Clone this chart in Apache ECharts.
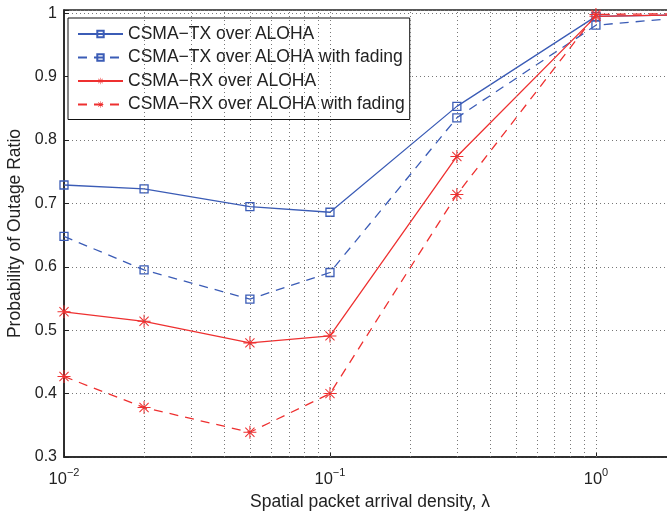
<!DOCTYPE html>
<html><head><meta charset="utf-8">
<script src="https://cdn.jsdelivr.net/npm/echarts@6/dist/echarts.min.js"></script>
<style>html,body{margin:0;padding:0;background:#fff}#c{width:667px;height:512px}</style>
</head><body><div id="c"></div>
<script>
const xValues = [0.01, 0.02, 0.05, 0.1, 0.3, 1, 2];
const txAloha = [0.729, 0.723, 0.695, 0.686, 0.853, 0.995, 0.997];
const txAlohaFading = [0.648, 0.595, 0.549, 0.591, 0.835, 0.981, 0.992];
const rxAloha = [0.529, 0.514, 0.480, 0.491, 0.774, 0.995, 0.997];
const rxAlohaFading = [0.427, 0.378, 0.339, 0.400, 0.714, 0.998, 0.999];
const seriesNames = ['CSMA\u2212TX over ALOHA', 'CSMA\u2212TX over ALOHA with fading', 'CSMA\u2212RX over ALOHA', 'CSMA\u2212RX over ALOHA with fading'];
const xGridLines = [0.02,0.03,0.04,0.05,0.06,0.07,0.08,0.09,0.1,0.2,0.3,0.4,0.5,0.6,0.7,0.8,0.9,1];
const xLabel = 'Spatial packet arrival density, \u03bb';
const yLabel = 'Probability of Outage Ratio';

const BLUE = '#3b5cb6', RED = '#ee3030';
const FONT = '"Liberation Sans", Arial, sans-serif';
const star = 'path://M0 9.2L20 9.2L20 10.8L0 10.8Z M9.2 0L10.8 0L10.8 20L9.2 20Z M2.4 3.5L3.5 2.4L17.6 16.5L16.5 17.6Z M16.5 2.4L17.6 3.5L3.5 17.6L2.4 16.5Z';
const pair = arr => xValues.map((x, i) => [x, arr[i]]);

function mk(name, data, color, dashed, isStar) {
  return {
    name, type: 'line', data: pair(data),
    symbol: isStar ? star : 'rect',
    symbolSize: isStar ? 13 : 8,
    lineStyle: { color, width: 1.3, type: dashed ? [9, 7] : 'solid' },
    itemStyle: isStar ? { color, borderWidth: 0 } : { color: 'rgba(255,255,255,0)', borderColor: color, borderWidth: 1.3 },
    emphasis: { disabled: true }, animation: false, z: 3
  };
}
const series = [
  mk(seriesNames[0], txAloha, BLUE, false, false),
  mk(seriesNames[1], txAlohaFading, BLUE, true, false),
  mk(seriesNames[2], rxAloha, RED, false, true),
  mk(seriesNames[3], rxAlohaFading, RED, true, true)
];
series[0].markLine = {
  silent: true, symbol: 'none', label: { show: false }, animation: false,
  lineStyle: { color: '#777', width: 1, type: [1, 3] },
  data: xGridLines.map(v => ({ xAxis: v }))
};

const chart = echarts.init(document.getElementById('c'), null, { renderer: 'canvas' });
chart.setOption({
  backgroundColor: '#fff',
  animation: false,
  textStyle: { fontFamily: FONT },
  grid: { left: 64, top: 10, bottom: 55, right: -9, outerBoundsMode: 'none', containLabel: false,
          show: true, borderColor: '#222', borderWidth: 1.5, backgroundColor: 'transparent' },
  legend: {
    orient: 'vertical', left: 68, top: 18,
    itemWidth: 45, itemHeight: 8, itemGap: 3.5,
    padding: [6, 5, 5, 9],
    backgroundColor: '#fff', borderColor: '#111', borderWidth: 1,
    textStyle: { fontSize: 17.5, color: '#222', fontFamily: FONT, lineHeight: 20 },
    data: seriesNames
  },
  xAxis: {
    type: 'log', logBase: 10, min: 0.01, max: 2,
    name: xLabel, nameLocation: 'middle', nameGap: 33,
    nameTextStyle: { fontSize: 17.5, color: '#222', fontFamily: FONT },
    axisLine: { show: true, lineStyle: { color: '#222', width: 1.5 } },
    axisTick: { show: true, inside: true, length: 5, lineStyle: { color: '#222' } },
    splitLine: { show: false },
    axisLabel: {
      showMaxLabel: false, margin: 8,
      formatter: v => {
        const e = Math.log10(v);
        if (Math.abs(e - Math.round(e)) > 1e-6) return '';
        const r = Math.round(e);
        return '{b|10}{s|' + (r < 0 ? '\u2212' + (-r) : r) + '}';
      },
      rich: {
        b: { fontSize: 16.5, color: '#222', fontFamily: FONT, padding: [6, 0, 0, 0] },
        s: { fontSize: 11, color: '#222', fontFamily: FONT, padding: [0, 0, 8, 0] }
      }
    }
  },
  yAxis: {
    type: 'value', min: 0.3, max: 1.005, interval: 0.1,
    name: yLabel, nameLocation: 'middle', nameGap: 34,
    nameTextStyle: { fontSize: 17.5, color: '#222', fontFamily: FONT },
    axisLine: { show: true, lineStyle: { color: '#222', width: 1.5 } },
    axisTick: { show: true, inside: true, length: 5, lineStyle: { color: '#222' } },
    splitLine: { show: true, lineStyle: { color: '#777', width: 1, type: [1, 3] } },
    axisLabel: {
      fontSize: 16, color: '#222', margin: 7, showMaxLabel: true,
      formatter: v => (v > 1.0001 ? '' : (Math.abs(v - 1) < 1e-6 ? '1' : v.toFixed(1)))
    }
  },
  series
});
</script></body></html>
